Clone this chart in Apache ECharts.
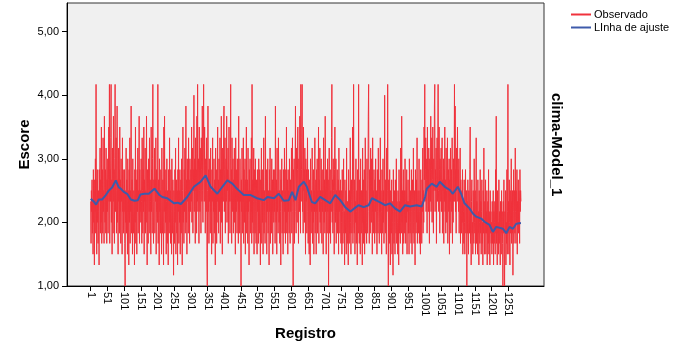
<!DOCTYPE html>
<html>
<head>
<meta charset="utf-8">
<script src="https://cdn.jsdelivr.net/npm/echarts@6/dist/echarts.min.js"></script>
<style>
  html, body { margin: 0; padding: 0; background: #fff; }
  #chart { width: 675px; height: 353px; }
</style>
</head>
<body>
<div id="chart"></div>
<script>
// Escore observado por registro (1..1289)
const observado = [
  // 1-50
  2.33,1.67,2.50,2.17,2.67,1.83,2.33,1.50,2.83,2.00,
  2.50,1.33,2.67,2.17,3.00,1.83,4.17,2.33,1.50,2.67,
  2.00,2.83,1.67,2.50,2.17,1.33,2.83,2.33,3.17,1.83,
  2.67,2.00,3.50,1.67,2.33,2.83,1.83,3.33,2.17,2.50,
  1.67,3.67,2.33,2.00,2.83,1.83,3.17,2.50,1.67,2.67,
  // 51-100
  2.17,3.00,1.83,2.67,3.50,2.33,4.17,1.67,2.83,2.33,
  3.33,4.17,2.00,2.67,1.50,3.17,2.50,1.83,3.67,2.33,
  2.83,1.67,3.00,4.17,2.17,2.67,3.33,1.83,2.50,3.83,
  2.00,2.67,1.50,3.17,2.33,2.83,1.83,3.50,2.17,2.67,
  1.67,3.00,2.33,2.50,1.50,3.33,2.17,2.83,1.83,2.50,
  // 101-150
  2.17,2.83,1.67,1.00,2.50,2.00,3.17,1.83,2.67,2.33,
  1.50,3.00,2.17,2.50,1.33,2.83,2.00,3.33,1.67,2.50,
  2.17,3.83,1.83,2.33,2.67,1.50,3.00,2.17,1.83,2.50,
  2.33,1.33,2.83,2.00,3.50,1.67,2.33,2.67,1.50,2.83,
  2.17,3.17,1.83,2.50,2.33,3.67,1.67,2.83,2.17,2.50,
  // 151-200
  2.00,3.00,2.33,1.67,3.33,2.50,1.83,2.83,2.17,3.50,
  1.50,2.67,2.33,3.17,1.83,2.50,2.00,3.67,2.17,1.33,
  2.83,2.33,1.67,3.00,2.50,2.17,3.33,1.83,2.67,2.33,
  1.50,3.50,2.17,2.83,1.83,3.00,4.17,2.33,1.67,2.67,
  2.50,3.17,1.83,2.67,2.33,3.33,1.50,2.83,2.17,2.50,
  // 201-250
  2.00,4.17,1.67,2.67,2.33,1.33,3.00,2.17,2.50,1.83,
  2.83,2.17,1.50,3.17,2.33,1.83,2.67,2.00,1.33,3.50,
  2.17,3.67,1.83,2.50,2.00,2.83,1.50,2.33,3.00,1.67,
  2.50,2.17,1.33,2.83,2.33,1.83,3.33,2.00,2.50,1.67,
  2.83,2.17,1.50,3.00,2.33,1.83,2.67,2.00,1.17,2.50,
  // 251-300
  2.17,1.67,2.83,2.00,3.17,1.50,2.33,2.67,1.83,2.50,
  1.33,2.83,2.17,3.33,1.67,2.50,2.00,2.83,1.50,2.33,
  2.67,1.83,3.00,2.17,1.33,2.50,3.50,2.00,2.33,1.67,
  2.83,2.17,3.17,1.83,2.50,3.83,2.00,2.67,1.50,3.00,
  2.33,2.83,1.83,3.33,2.17,2.67,1.67,3.00,2.50,2.17,
  // 301-350
  2.83,2.33,3.50,2.00,2.67,3.17,1.83,2.83,2.50,4.00,
  2.17,3.00,2.67,1.67,3.33,2.50,2.83,1.83,3.67,2.33,
  4.17,2.17,2.83,3.00,1.67,3.50,2.50,2.17,3.17,2.67,
  1.83,3.33,2.83,2.33,3.83,2.50,2.00,3.17,4.17,2.67,
  2.33,3.50,2.83,1.83,3.00,2.67,2.17,3.33,1.50,1.00,
  // 351-400
  2.50,3.83,2.17,2.83,1.67,3.00,2.33,2.67,1.83,3.17,
  2.17,2.50,1.50,2.83,2.33,3.33,1.67,2.50,2.17,3.00,
  1.83,2.67,2.33,1.33,3.17,2.17,2.83,1.67,2.50,2.33,
  3.50,2.00,2.67,1.83,3.00,2.50,2.17,3.33,1.67,2.83,
  2.33,3.67,2.00,2.83,1.50,3.17,2.67,2.33,3.50,3.83,
  // 401-450
  2.17,2.83,3.33,1.83,2.67,3.00,2.33,3.67,2.00,2.83,
  2.50,3.17,1.67,2.83,3.50,2.33,2.67,1.83,3.00,4.17,
  2.33,2.83,1.67,3.33,2.50,2.17,3.00,1.83,2.67,2.33,
  3.17,2.00,2.83,1.50,3.33,2.50,2.17,2.83,1.83,3.00,
  2.33,2.67,1.67,3.67,2.17,2.50,1.83,3.00,2.33,2.50,
  // 451-500
  1.00,2.67,2.17,3.17,1.83,2.50,2.33,3.33,1.67,2.83,
  2.00,2.50,3.00,1.50,2.67,2.17,3.50,1.83,2.33,2.67,
  1.67,3.17,2.17,2.50,1.33,2.83,2.33,3.00,1.83,2.50,
  2.17,3.33,1.67,4.17,2.00,2.67,1.83,2.33,3.17,1.50,
  2.50,2.83,1.83,3.00,2.17,1.67,2.67,2.33,1.50,2.83,
  // 501-550
  2.17,2.50,1.67,3.00,2.33,1.83,2.83,2.00,1.33,2.67,
  2.33,3.17,1.67,2.50,2.00,2.83,1.50,2.33,3.33,1.83,
  2.50,2.17,1.67,3.67,2.33,2.00,2.83,1.50,2.67,2.17,
  3.00,1.83,2.50,2.33,1.33,2.83,2.17,3.17,1.67,2.50,
  2.33,1.83,3.00,2.17,2.67,1.50,2.33,2.83,2.00,2.50,
  // 551-600
  2.17,2.83,1.67,3.83,2.33,2.00,2.67,1.50,3.17,2.17,
  2.50,1.83,3.33,2.67,2.00,2.50,1.67,2.83,2.17,1.33,
  2.67,2.33,3.00,1.83,2.50,2.17,1.50,2.83,2.33,1.83,
  3.17,2.17,2.50,1.67,2.83,2.00,3.50,1.83,2.33,2.67,
  1.50,2.83,2.17,2.50,1.83,3.00,2.33,1.67,2.67,2.17,
  // 601-650
  2.50,3.17,1.83,2.67,3.33,2.17,1.00,2.83,2.33,3.00,
  1.67,2.50,2.83,3.83,2.17,1.83,3.17,2.50,2.00,2.83,
  3.50,2.33,1.67,3.00,2.67,2.17,3.67,2.50,1.83,4.17,
  2.33,2.83,3.33,4.17,2.17,2.67,1.83,3.50,2.50,2.83,
  2.00,3.17,2.67,1.50,3.00,2.33,2.83,1.83,2.50,3.33,
  // 651-700
  2.17,1.67,2.83,2.00,1.50,2.67,2.33,1.33,3.00,2.17,
  1.83,2.50,2.17,3.17,1.67,2.33,2.00,2.83,1.50,2.50,
  2.17,3.33,1.83,2.33,2.67,1.50,2.83,2.17,3.00,1.83,
  2.50,2.33,3.50,1.67,2.67,2.17,3.17,2.00,2.50,1.83,
  3.00,2.33,1.67,2.83,2.17,2.50,1.50,3.33,2.33,2.00,
  // 701-750
  2.67,1.83,3.67,2.17,2.50,1.50,2.83,2.33,1.83,3.00,
  2.17,2.67,1.00,2.50,3.17,1.83,2.33,2.83,1.67,2.50,
  2.17,3.33,4.17,2.00,2.67,1.83,3.00,2.50,2.17,1.50,
  2.83,3.50,2.33,2.00,3.00,1.67,2.50,2.17,2.83,1.83,
  2.33,2.67,1.50,3.17,2.17,2.50,1.83,2.33,2.67,1.67,
  // 751-800
  2.50,2.00,1.50,2.83,2.17,1.67,2.33,3.00,1.83,2.17,
  1.33,2.67,2.00,1.83,2.50,1.50,3.17,2.17,1.67,2.33,
  2.00,1.33,2.83,2.17,1.67,2.50,1.83,3.33,2.00,1.50,
  2.33,2.67,1.83,2.17,3.50,1.67,2.50,4.17,2.00,1.83,
  2.67,1.50,2.33,2.00,3.00,1.67,2.17,2.50,1.33,2.83,
  // 801-850
  2.17,1.83,4.17,2.33,1.67,2.67,2.00,1.50,3.00,2.17,
  1.83,2.50,2.33,1.33,3.17,2.00,2.67,1.67,2.33,2.83,
  1.50,2.17,3.33,1.83,2.50,2.00,1.67,3.00,2.33,1.83,
  2.67,3.67,4.17,2.17,1.67,2.83,2.33,1.83,3.17,2.50,
  2.00,3.00,2.67,1.50,3.33,2.17,2.50,1.83,2.83,2.33,
  // 851-900
  1.67,2.67,2.17,3.00,1.83,2.50,2.33,1.50,2.83,2.17,
  1.83,3.17,2.33,2.00,1.67,2.67,2.17,3.33,1.83,2.50,
  2.17,1.50,2.83,2.33,1.83,3.00,2.00,2.50,1.67,2.33,
  4.00,2.17,1.83,2.67,2.33,1.50,3.17,2.17,2.50,4.17,
  2.33,1.00,2.67,2.17,1.67,2.83,2.00,1.33,2.50,2.17,
  // 901-950
  1.83,2.67,1.50,2.33,2.00,1.17,2.83,2.17,1.67,2.50,
  2.00,1.50,2.67,2.17,1.83,3.00,1.67,2.33,2.00,1.50,
  2.50,2.17,1.33,2.83,1.83,2.33,2.00,1.67,3.17,2.17,
  1.83,3.67,2.00,2.50,1.50,2.33,2.83,1.67,2.17,2.50,
  1.83,3.00,2.33,1.67,2.50,2.00,2.83,1.50,2.33,2.17,
  // 951-1000
  2.67,1.83,2.33,1.50,3.00,2.17,1.83,2.50,2.00,1.67,
  2.83,2.17,1.50,2.67,2.33,1.83,3.17,2.00,1.67,2.50,
  2.17,1.33,2.83,2.33,1.83,2.67,2.00,3.33,1.67,2.17,
  2.50,1.83,2.33,3.00,1.67,2.17,2.50,1.50,2.83,2.00,
  2.33,1.67,2.67,2.17,3.17,1.83,2.50,2.00,3.50,2.67,
  // 1001-1050
  4.17,2.33,2.83,3.33,2.17,2.67,3.00,1.83,3.50,2.50,
  2.83,2.17,3.17,2.50,1.67,3.00,2.67,2.33,3.67,2.17,
  2.83,3.33,2.00,2.67,3.50,2.33,1.83,3.00,2.50,3.83,
  4.17,2.17,2.83,2.50,3.17,1.67,2.67,3.33,2.33,3.00,
  4.17,2.50,2.17,3.50,2.83,1.83,3.00,2.67,2.33,3.17,
  // 1051-1100
  2.17,2.83,3.33,1.83,2.67,2.50,3.00,1.67,2.83,2.33,
  3.50,2.17,2.67,1.83,3.17,2.50,2.00,2.83,3.33,1.67,
  2.50,2.83,2.17,3.00,1.50,2.67,2.33,3.17,1.83,2.50,
  2.83,2.17,3.33,1.67,2.50,2.00,3.00,2.33,2.67,4.17,
  2.33,3.83,2.17,2.83,1.83,3.17,2.50,2.67,3.50,2.33,
  // 1101-1150
  2.83,2.17,3.00,1.83,2.50,2.33,3.17,1.67,2.67,2.17,
  1.83,2.50,2.00,2.83,1.50,2.33,2.17,1.67,2.67,2.00,
  1.50,2.33,2.83,1.83,2.17,2.50,1.00,2.33,1.83,2.67,
  2.00,1.50,2.50,2.17,1.83,2.83,3.50,1.67,2.17,1.33,
  2.33,2.67,1.83,2.00,1.50,2.50,2.17,1.67,3.00,2.00,
  // 1151-1200
  1.83,2.50,1.50,2.17,3.33,1.67,2.33,2.00,1.50,2.67,
  1.83,2.17,1.33,2.50,2.00,1.67,2.83,1.83,2.33,1.50,
  2.17,2.67,1.67,2.00,1.33,2.50,1.83,3.17,2.00,1.50,
  2.33,1.83,2.67,1.50,2.17,1.83,2.50,1.33,2.00,2.33,
  1.67,2.83,1.50,2.17,2.00,1.33,2.50,1.83,2.17,1.67,
  // 1201-1250
  2.00,1.50,2.33,1.67,1.83,2.50,1.33,2.17,1.67,2.00,
  2.33,1.50,2.83,1.83,3.67,1.67,2.17,1.33,2.50,1.83,
  2.00,1.50,2.67,1.67,2.17,1.83,1.33,2.33,2.00,1.50,
  2.50,1.83,2.17,1.67,1.00,2.33,1.83,2.67,1.50,1.00,
  2.17,1.83,2.50,1.33,2.00,1.67,2.83,1.50,2.17,4.17,
  // 1251-1289
  1.83,2.33,1.50,2.67,2.00,1.33,2.50,1.83,2.17,3.00,
  1.67,2.33,1.83,2.50,1.17,2.17,2.83,1.67,2.00,2.50,
  1.83,3.17,2.17,1.67,2.50,2.00,2.83,1.50,2.33,2.17,
  2.67,1.83,2.50,2.33,1.67,2.83,2.17,2.50,2.33
];

// Linha de ajuste
const ajusteRegistro = [
  1, 10, 17, 25, 35, 45, 55, 65, 76, 85, 91, 100, 110, 121, 132, 142, 150, 162, 175, 192,
  207, 215, 230, 251, 261, 271, 290, 310, 330, 345, 360, 380, 395, 410, 425, 435, 445, 459, 480, 499,
  519, 530, 550, 564, 579, 594, 604, 614, 624, 639, 648, 663, 673, 688, 703, 718, 733, 748, 763, 778,
  790, 803, 818, 833, 843, 866, 870, 882, 897, 912, 927, 942, 957, 977, 992, 1002, 1007, 1022, 1037, 1046,
  1061, 1076, 1085, 1100, 1110, 1120, 1135, 1145, 1155, 1170, 1180, 1195, 1205, 1215, 1235, 1245, 1255, 1265, 1275, 1289
];
const ajusteValor = [
  2.37, 2.33, 2.28, 2.36, 2.36, 2.42, 2.50, 2.55, 2.66, 2.55, 2.53, 2.48, 2.45, 2.36, 2.34, 2.35, 2.44, 2.45, 2.45, 2.53,
  2.43, 2.40, 2.38, 2.30, 2.31, 2.29, 2.40, 2.56, 2.64, 2.74, 2.56, 2.45, 2.56, 2.66, 2.61, 2.55, 2.50, 2.43, 2.43, 2.38,
  2.35, 2.40, 2.38, 2.45, 2.34, 2.35, 2.48, 2.35, 2.56, 2.64, 2.56, 2.32, 2.30, 2.40, 2.35, 2.30, 2.43, 2.35, 2.24, 2.17,
  2.22, 2.27, 2.24, 2.27, 2.38, 2.32, 2.35, 2.27, 2.30, 2.22, 2.17, 2.27, 2.25, 2.27, 2.25, 2.40, 2.53, 2.61, 2.56, 2.64,
  2.56, 2.51, 2.45, 2.56, 2.45, 2.30, 2.22, 2.14, 2.09, 2.06, 2.01, 1.96, 1.85, 1.93, 1.90, 1.83, 1.93, 1.90, 1.98, 1.99
];

const xTicks = [1, 51, 101, 151, 201, 251, 301, 351, 401, 451, 501, 551, 601, 651, 701, 751, 801, 851, 901, 951, 1001, 1051, 1101, 1151, 1201, 1251];
const yTicks = [1, 2, 3, 4, 5];

const chart = echarts.init(document.getElementById('chart'));

const fontFamily = '"Liberation Sans", Arial, sans-serif';

const option = {
  animation: false,
  textStyle: { fontFamily: fontFamily },
  grid: {
    left: 67,
    top: 3,
    width: 477,
    height: 283,
    show: true,
    backgroundColor: '#f0f0f0',
    borderColor: '#333',
    borderWidth: 1
  },
  legend: {
    orient: 'vertical',
    left: 566,
    top: 4,
    itemWidth: 20,
    itemHeight: 2,
    itemGap: 2,
    icon: 'rect',
    textStyle: { fontSize: 11, color: '#000', fontFamily: fontFamily, padding: [0, 0, 0, -2] },
    data: ['Observado', 'LInha de ajuste']
  },
  xAxis: {
    type: 'value',
    min: -70,
    max: 1358,
    name: 'Registro',
    nameLocation: 'middle',
    nameGap: 40,
    nameTextStyle: { fontSize: 15, fontWeight: 'bold', color: '#000' },
    axisLine: { show: true, onZero: false, lineStyle: { color: '#000' } },
    axisTick: { show: true, length: 5, customValues: xTicks, lineStyle: { color: '#000' } },
    axisLabel: {
      customValues: xTicks,
      rotate: -90,
      fontSize: 11,
      color: '#000',
      margin: 6,
      formatter: (v) => String(v)
    },
    splitLine: { show: false }
  },
  yAxis: {
    type: 'value',
    min: 1,
    max: 5.45,
    name: 'Escore',
    nameLocation: 'middle',
    nameGap: 35,
    nameMoveOverlap: false,
    nameTextStyle: { fontSize: 15, fontWeight: 'bold', color: '#000' },
    axisLine: { show: true, onZero: false, lineStyle: { color: '#000' } },
    axisTick: { show: true, length: 5, customValues: yTicks, lineStyle: { color: '#000' } },
    axisLabel: {
      customValues: yTicks,
      fontSize: 11,
      color: '#000',
      margin: 8,
      formatter: (v) => v.toFixed(2).replace('.', ',')
    },
    splitLine: { show: false }
  },
  graphic: [
    {
      type: 'text',
      left: 549,
      top: 93,
      rotation: -Math.PI / 2,
      style: {
        text: 'clima-Model_1',
        font: 'bold 15px ' + fontFamily,
        fill: '#000'
      }
    }
  ],
  series: [
    {
      name: 'Observado',
      type: 'line',
      symbol: 'none',
      data: observado.map((v, i) => [i + 1, v]),
      lineStyle: { color: '#f0323c', width: 1 },
      itemStyle: { color: '#f0323c' }
    },
    {
      name: 'LInha de ajuste',
      type: 'line',
      symbol: 'none',
      data: ajusteRegistro.map((r, i) => [r, ajusteValor[i]]),
      lineStyle: { color: '#3e5bab', width: 2 },
      itemStyle: { color: '#3e5bab' }
    }
  ]
};

chart.setOption(option);
</script>
</body>
</html>
